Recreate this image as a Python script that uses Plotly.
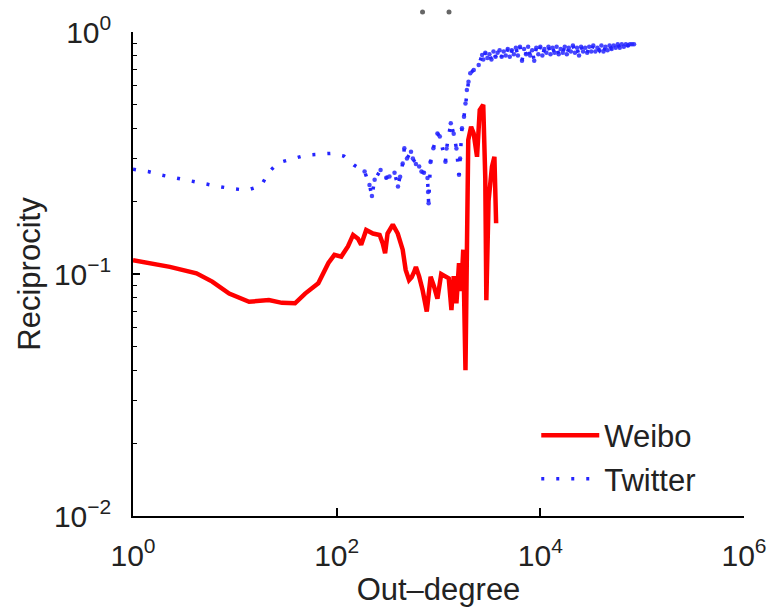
import plotly.graph_objects as go

# ---------------- data ----------------
weibo_x = [1, 1.47, 2.3, 4.2, 6.0, 8.8, 13.8, 21.6, 29, 39, 49, 66, 83, 95, 111, 129,
           145, 162, 174, 195, 227, 264, 283, 299, 316, 356, 398, 445, 476, 514, 545,
           576, 600, 646, 697, 767, 837, 905, 976, 1064, 1170, 1260, 1340, 1410, 1500,
           1590, 1670, 1750, 1840, 1900, 1960, 2090, 2214, 2390, 2540, 2750, 2880, 2950,
           3100, 3350, 3540, 3680]
weibo_y = [0.114, 0.111, 0.107, 0.1007, 0.093, 0.083, 0.0768, 0.078, 0.076, 0.0757, 0.083,
           0.0916, 0.111, 0.120, 0.118, 0.130, 0.145, 0.140, 0.132, 0.152, 0.147, 0.145,
           0.134, 0.122, 0.147, 0.160, 0.147, 0.126, 0.104, 0.0944, 0.097, 0.102, 0.107,
           0.0975, 0.086, 0.070, 0.0975, 0.0887, 0.079, 0.100, 0.0975, 0.096, 0.071, 0.098,
           0.0756, 0.111, 0.085, 0.126, 0.040, 0.115, 0.358, 0.406, 0.381, 0.305, 0.476,
           0.500, 0.25, 0.078, 0.20, 0.278, 0.305, 0.162]

twitter_x = [1, 1.41, 1.93, 2.66, 3.67, 5.07, 6.9, 9.6, 13.2, 18.2, 21.3, 26.5, 36.4, 50,
             69, 87, 118, 148, 188, 210, 222, 236, 270, 307, 330, 370, 400, 420, 445, 462,
             490, 537, 560, 600, 646, 680, 720, 780, 790, 800, 835, 890, 976, 1030, 1170,
             1200, 1320, 1410, 1500, 1590, 1630, 1700, 1780, 1840, 1900, 1970, 2050, 2220,
             2480, 2680,
             2754, 2884, 3020, 3162, 3311, 3467, 3631, 3802, 3981, 4169, 4365, 4571, 4786,
             5012, 5248, 5495, 5754, 6026, 6310, 6607, 6918, 7244, 7586, 7943, 8318, 8710,
             9120, 9550, 10000, 10470, 10960, 11480, 12020, 12590, 13180, 13800, 14450,
             15140, 15850, 16600, 17380, 18200, 19050, 19950, 20890, 21880, 22910, 23990,
             25120, 26300, 27540, 28840, 30200, 31620, 33110, 34670, 36310, 38020, 39810,
             41690, 43650, 45710, 47860, 50120, 52480, 54950, 57540, 60260, 63100, 66070,
             69180, 72440, 75860, 79430, 83180]
twitter_y = [0.271, 0.265, 0.256, 0.249, 0.242, 0.235, 0.230, 0.225, 0.222, 0.232, 0.262,
             0.288, 0.300, 0.310, 0.313, 0.315, 0.307, 0.282, 0.265, 0.233, 0.210, 0.245,
             0.269, 0.250, 0.253, 0.262, 0.230, 0.252, 0.286, 0.331, 0.300, 0.320, 0.300,
             0.285, 0.278, 0.265, 0.262, 0.249, 0.218, 0.196, 0.290, 0.331, 0.381, 0.370,
             0.291, 0.330, 0.420, 0.380, 0.330, 0.257, 0.300, 0.400, 0.447, 0.507, 0.576,
             0.623, 0.675, 0.697, 0.731, 0.803,
             0.77, 0.82, 0.78, 0.81, 0.77, 0.83, 0.79, 0.82, 0.84, 0.79, 0.83, 0.80, 0.85,
             0.79, 0.84, 0.81, 0.86, 0.80, 0.87, 0.76, 0.85, 0.81, 0.87, 0.80, 0.84, 0.76,
             0.86, 0.81, 0.87, 0.80, 0.85, 0.82, 0.87, 0.81, 0.86, 0.82, 0.87, 0.81, 0.85,
             0.82, 0.87, 0.81, 0.86, 0.83, 0.88, 0.82, 0.86, 0.80, 0.87, 0.83, 0.86, 0.82,
             0.87, 0.83, 0.88, 0.83, 0.86, 0.84, 0.88, 0.83, 0.87, 0.84, 0.88, 0.85, 0.88,
             0.86, 0.89, 0.86, 0.89, 0.87, 0.89, 0.88, 0.89, 0.89, 0.89]

# two faint specks above the axes in the reference
stray_x = [697, 1268]
stray_y = [1.21, 1.21]

x_tickvals = [1, 100, 10000, 1000000]
x_ticktext = ["10<sup>0</sup>", "10<sup>2</sup>", "10<sup>4</sup>", "10<sup>6</sup>"]
y_tickvals = [0.01, 0.1, 1]
y_ticktext = ["10<sup>\u22122</sup>", "10<sup>\u22121</sup>", "10<sup>0</sup>"]

FONT = "Liberation Sans, Arial, Helvetica, sans-serif"
BLUE = "#2424ff"

# layout geometry
W, H = 783, 614
M_L, M_R, M_T, M_B = 133, 39, 0, 98
PLOT_TOP_PX = 32                      # top of the main y axis (pixels from top)
plot_h = H - M_T - M_B
main_top = 1 - (PLOT_TOP_PX - M_T) / plot_h
decade_px = (H - M_B - PLOT_TOP_PX) / 2.0
y2_range_top = (PLOT_TOP_PX - M_T) / decade_px

NOISY_FROM = 180
tw_noisy = [(x, y) for x, y in zip(twitter_x, twitter_y) if x >= NOISY_FROM]

fig = go.Figure()
fig.add_trace(go.Scatter(x=weibo_x, y=weibo_y, mode="lines", name="Weibo",
                         line=dict(color="#ff0000", width=4.5)))
fig.add_trace(go.Scatter(x=twitter_x, y=twitter_y, mode="lines", name="Twitter",
                         legendgroup="tw",
                         line=dict(color=BLUE, width=3.5, dash="3px,12px")))
fig.add_trace(go.Scatter(x=[p[0] for p in tw_noisy], y=[p[1] for p in tw_noisy],
                         mode="markers", showlegend=False, legendgroup="tw",
                         hoverinfo="skip",
                         marker=dict(color=BLUE, size=4.5, opacity=0.85, line=dict(width=0))))
fig.add_trace(go.Scatter(x=stray_x, y=stray_y, mode="markers", showlegend=False,
                         yaxis="y2", hoverinfo="skip",
                         marker=dict(color="#666666", size=5, line=dict(width=0))))

fig.update_layout(
    width=W, height=H,
    margin=dict(l=M_L, r=M_R, t=M_T, b=M_B, autoexpand=False),
    paper_bgcolor="white", plot_bgcolor="white",
    font=dict(family=FONT, size=30, color="#222222"),
    showlegend=True,
    legend=dict(x=0.66, y=0.02, xanchor="left", yanchor="bottom",
                bgcolor="rgba(255,255,255,0)", borderwidth=0, itemwidth=58,
                font=dict(size=31, family=FONT, color="#222222"),
                tracegroupgap=0),
    yaxis2=dict(type="log", domain=[main_top, 1], range=[0, y2_range_top],
                anchor="x", visible=False, showgrid=False, zeroline=False,
                automargin=False),
)
fig.update_xaxes(type="log", range=[0, 6], showline=True, linecolor="black", linewidth=1.5,
                 showgrid=False, zeroline=False, ticks="inside", ticklen=8, tickwidth=1.5,
                 tickcolor="black", tickvals=x_tickvals, ticktext=x_ticktext,
                 ticklabelstandoff=12, automargin=False,
                 title=dict(text="Out\u2013degree", standoff=8,
                            font=dict(size=31, family=FONT)))
fig.update_layout(yaxis=dict(
    type="log", range=[-2, 0], domain=[0, main_top], showline=True, linecolor="black",
    linewidth=1.5, showgrid=False, zeroline=False, ticks="inside", ticklen=7, tickwidth=1.5,
    tickcolor="black", tickvals=y_tickvals, ticktext=y_ticktext, ticklabelstandoff=14,
    automargin=False,
    minor=dict(ticks="inside", ticklen=4, tickcolor="black", tickwidth=1.2,
               dtick="D1", showgrid=False),
    title=dict(text="Reciprocity", standoff=4, font=dict(size=31, family=FONT))))

fig.write_html("out.html")
